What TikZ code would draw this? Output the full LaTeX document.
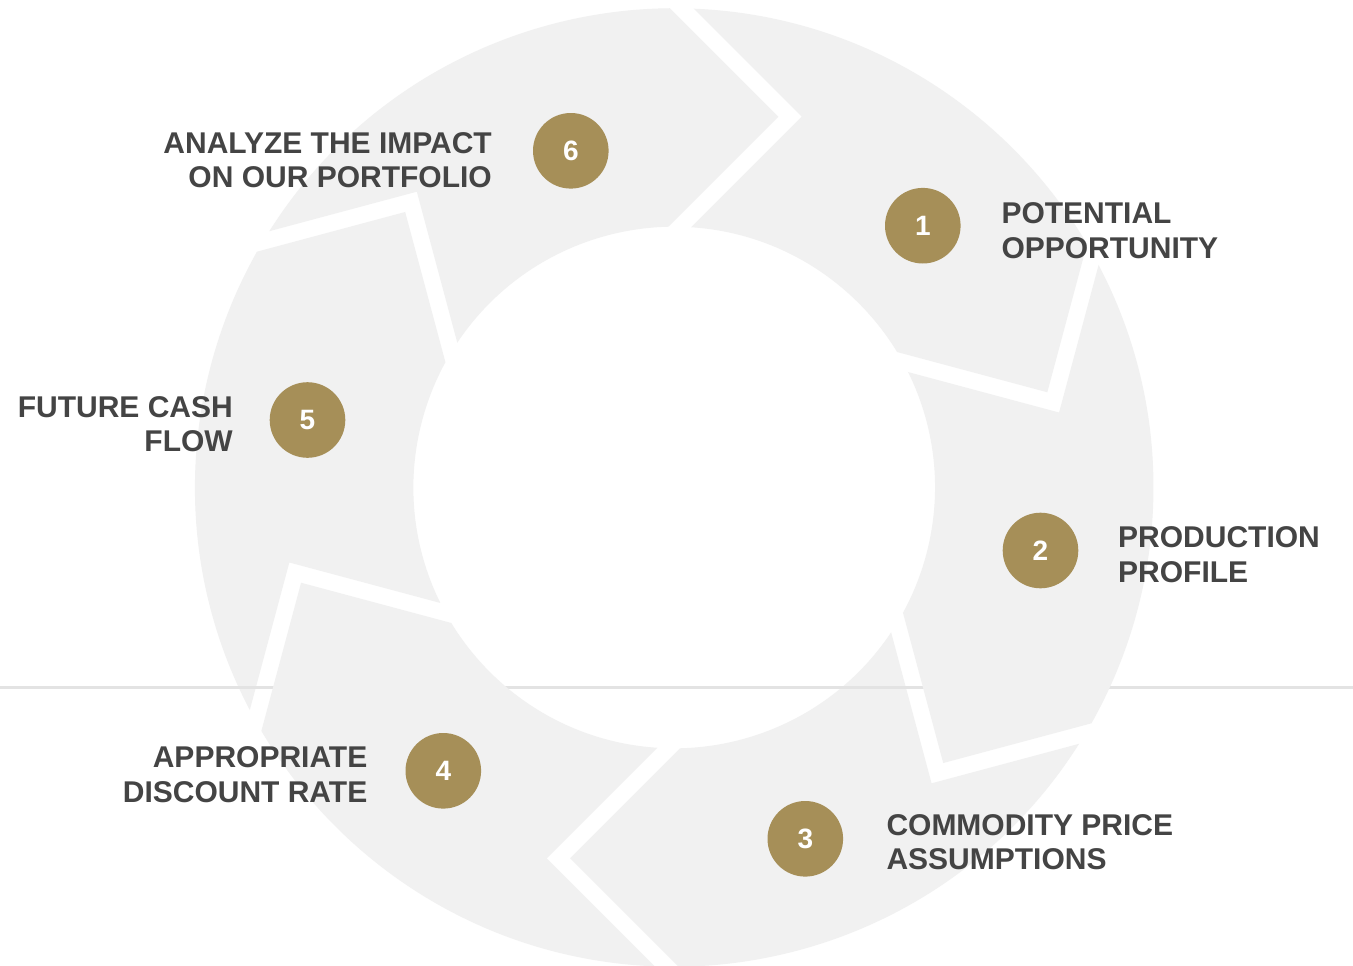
\documentclass[tikz,border=0pt]{standalone}
\usepackage{fontspec}
\setmainfont{Liberation Sans}
\definecolor{ringgray}{HTML}{F1F1F1}
\definecolor{gold}{HTML}{A68F58}
\definecolor{txtgray}{HTML}{444444}
\definecolor{rulegray}{HTML}{E3E3E3}
\newcommand\ringseg[1]{%
  \begin{scope}[shift={(674.2,-487.5)}, rotate=#1]
    \clip (-122.5,620.8) -- (127.5,370.8) -- (-122.5,120.8) -- (0,0)
      -- (80.38:189.4) -- (14.32:385.1) -- (43.23:637.7)
      -- (43.23:1300) -- (101.16:1300) -- cycle;
    \fill[ringgray, even odd rule] (0,0) circle (479.2) (0,0) circle (260.8);
  \end{scope}}
\begin{document}
\begin{tikzpicture}[x=1pt,y=1pt,
  numcirc/.style={circle, fill=gold, minimum size=75.6pt, inner sep=0pt,
    text=white, font=\fontsize{28}{28}\selectfont\bfseries},
  lab/.style={text=txtgray, font=\fontsize{30}{34.8}\selectfont\bfseries, inner sep=0pt},
  rulestyle/.style={draw=rulegray, line width=2.2pt}]
\useasboundingbox (0,0) rectangle (1353,-966);
\fill[white] (0,0) rectangle (1353,-966);
% ring segments (clockwise cycle)
\ringseg{0}
\ringseg{-120}
\ringseg{-240}
\ringseg{-300}
\coordinate (ruleL) at (0,-687.5);
\coordinate (ruleR) at (1353,-687.5);
\draw[rulestyle] (ruleL) -- (ruleR);
\ringseg{-60}
\ringseg{-180}
% numbered circles
\node[numcirc] (c1) at (922.8,-225.7) {1};
\node[numcirc] (c2) at (1040.5,-550.5) {2};
\node[numcirc] (c3) at (805.3,-838.8) {3};
\node[numcirc] (c4) at (443.3,-770.8) {4};
\node[numcirc] (c5) at (307.5,-420.0) {5};
\node[numcirc] (c6) at (570.8,-150.8) {6};
% labels (base anchor = baseline of the last line)
\node[lab, anchor=base west, align=left] (t1) at (1001.3,-258.2) {POTENTIAL\\OPPORTUNITY};
\node[lab, anchor=base west, align=left] (t2) at (1118.0,-582.4) {PRODUCTION\\PROFILE};
\node[lab, anchor=base west, align=left] (t3) at (886.3,-869.8) {COMMODITY PRICE\\ASSUMPTIONS};
\node[lab, anchor=base east, align=right] (t4) at (367.5,-802.4) {APPROPRIATE\\DISCOUNT RATE};
\node[lab, anchor=base east, align=right] (t5) at (233.0,-451.8) {FUTURE CASH\\FLOW};
\node[lab, anchor=base east, align=right] (t6) at (492.0,-187.8) {ANALYZE THE IMPACT\\ON OUR PORTFOLIO};
\end{tikzpicture}
\end{document}
